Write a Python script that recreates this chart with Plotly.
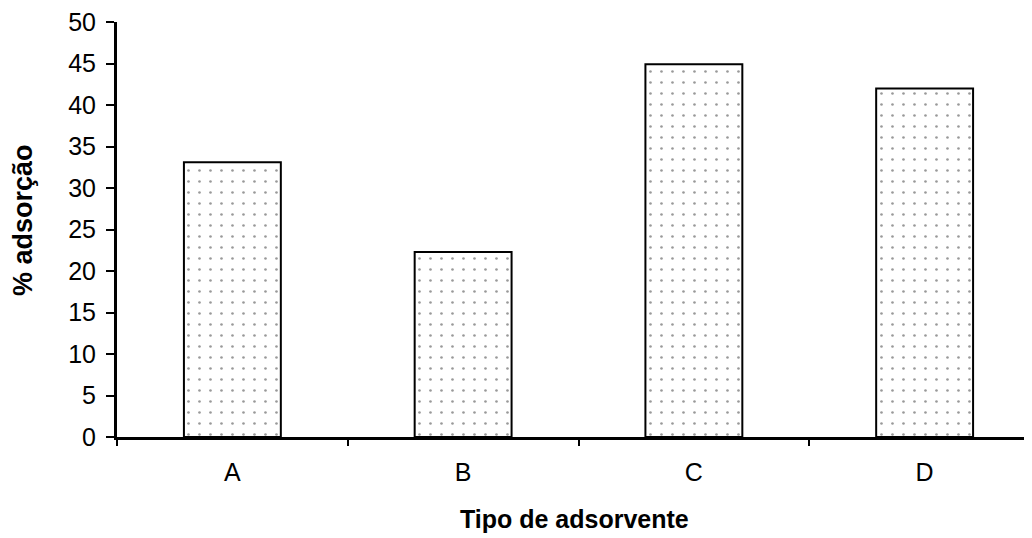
import plotly.graph_objects as go

categories = ["A", "B", "C", "D"]
values = [33.1, 22.3, 44.9, 42.0]
y_ticks = [0, 5, 10, 15, 20, 25, 30, 35, 40, 45, 50]
x_title = "Tipo de adsorvente"
y_title = "% adsorção"

fig = go.Figure()
fig.add_trace(go.Bar(
    x=categories, y=values, width=0.42,
    marker=dict(
        color="white",
        line=dict(color="black", width=2),
        pattern=dict(shape=".", size=11, solidity=0.045, fgcolor="#333333",
                     bgcolor="white", fillmode="overlay"),
    ),
))

FONT = "Liberation Sans, Arial, sans-serif"
L, T, B = 109, 14, 109
PW, PH = 1032 - L, 538 - T - B
fig.update_layout(
    width=1032, height=538,
    margin=dict(l=L, r=0, t=T, b=B, autoexpand=False),
    plot_bgcolor="white", paper_bgcolor="white",
    showlegend=False, font=dict(family=FONT, size=25, color="black"),
    xaxis=dict(
        range=[-0.5, 3.5], type="category", tickson="boundaries",
        ticks="outside", ticklen=6, tickwidth=2, tickcolor="black",
        showline=True, linecolor="black", linewidth=3, showgrid=False,
        tickfont=dict(size=25), ticklabelstandoff=11, automargin=False,
        ticklabeloverflow="allow",
    ),
    yaxis=dict(
        range=[0, 50], tickvals=y_ticks,
        ticks="outside", ticklen=8, tickwidth=2, tickcolor="black",
        showline=True, linecolor="black", linewidth=3, showgrid=False, zeroline=False,
        tickfont=dict(size=25), ticklabelstandoff=5, automargin=False,
        ticklabeloverflow="allow",
    ),
    annotations=[
        dict(text="<b>" + x_title + "</b>", xref="paper", yref="paper",
             x=(566 - L) / PW, y=-(511 - (T + PH)) / PH, xanchor="center", yanchor="middle",
             showarrow=False, font=dict(family=FONT, size=25)),
        dict(text="<b>" + y_title + "</b>", xref="paper", yref="paper",
             x=-(L - 15) / PW, y=(T + PH - 212) / PH, xanchor="center", yanchor="middle",
             textangle=-90, showarrow=False, font=dict(family=FONT, size=27)),
    ],
)
fig.write_html("out.html")
